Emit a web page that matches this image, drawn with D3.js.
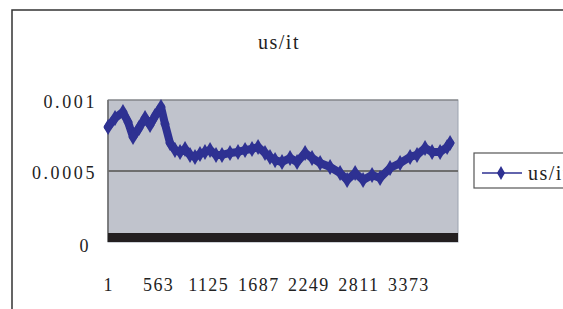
<!DOCTYPE html>
<html>
<head>
<meta charset="utf-8">
<script src="https://cdn.jsdelivr.net/npm/d3@7"></script>
<style>
  body { margin: 0; background: #fff; }
  svg text { font-family: "Liberation Serif", "DejaVu Serif", serif; fill: #222; }
</style>
</head>
<body>
<div id="chart"></div>
<script>
var idx = [1, 79, 168, 225, 281, 348, 416, 472, 528, 595, 640, 696, 752, 809, 865, 921,
  977, 1033, 1089, 1146, 1213, 1280, 1370, 1460, 1539, 1617, 1685, 1763, 1819, 1876,
  1954, 2044, 2123, 2213, 2291, 2382, 2494, 2606, 2685, 2775, 2864, 2965, 3055, 3167,
  3280, 3392, 3470, 3560, 3639, 3729, 3808, 3841];
var vals = [0.000810, 0.000873, 0.000915, 0.000845, 0.000739, 0.000803, 0.000873, 0.000824,
  0.000887, 0.000951, 0.000831, 0.000697, 0.000648, 0.000634, 0.000655, 0.000613,
  0.000599, 0.000620, 0.000634, 0.000648, 0.000613, 0.000613, 0.000627, 0.000634,
  0.000648, 0.000655, 0.000669, 0.000627, 0.000599, 0.000577, 0.000563, 0.000592,
  0.000563, 0.000627, 0.000592, 0.000556, 0.000528, 0.000486, 0.000437, 0.000486,
  0.000437, 0.000472, 0.000451, 0.000521, 0.000556, 0.000599, 0.000613, 0.000662,
  0.000634, 0.000634, 0.000669, 0.000697];
var xTicks = [1, 563, 1125, 1687, 2249, 2811, 3373];
var yTicks = [0, 0.0005, 0.001];
var yLabels = ['0', '0.0005', '0.001'];
var title = 'us/it';
var seriesName = 'us/it';

var W = 563, H = 309;
var plot = {left: 108, right: 458, top: 100, bottom: 242};
var lineColor = '#2e3192';

var svg = d3.select('#chart').append('svg')
  .attr('width', W).attr('height', H);

// outer chart frame (runs off the right/bottom edge)
svg.append('rect')
  .attr('x', 12).attr('y', 10).attr('width', 700).attr('height', 500)
  .attr('fill', 'none').attr('stroke', '#333').attr('stroke-width', 1.5);

var x = d3.scaleLinear().domain([0, 3930]).range([plot.left, plot.right]);
var y = d3.scaleLinear().domain([0, 0.001]).range([plot.bottom, plot.top]);

// plot area
svg.append('rect')
  .attr('x', plot.left).attr('y', plot.top)
  .attr('width', plot.right - plot.left).attr('height', plot.bottom - plot.top)
  .attr('fill', '#c0c3cc').attr('stroke', '#9ca3b0').attr('stroke-width', 1);
svg.append('line')
  .attr('x1', plot.left).attr('x2', plot.left)
  .attr('y1', plot.top).attr('y2', plot.bottom)
  .attr('stroke', '#666').attr('stroke-width', 1.5);
svg.append('line')
  .attr('x1', plot.left).attr('x2', plot.right)
  .attr('y1', plot.top).attr('y2', plot.top)
  .attr('stroke', '#777').attr('stroke-width', 1);

// gridline
svg.selectAll('line.grid')
  .data([0.0005]).enter().append('line')
  .attr('class', 'grid')
  .attr('x1', plot.left).attr('x2', plot.right)
  .attr('y1', function(d) { return y(d); }).attr('y2', function(d) { return y(d); })
  .attr('stroke', '#6e6e6e').attr('stroke-width', 2);

// floor
svg.append('rect')
  .attr('x', plot.left).attr('y', y(0) - 9)
  .attr('width', plot.right - plot.left).attr('height', 9)
  .attr('fill', '#231f20');

// y axis labels
var yAxis = d3.axisLeft(y).tickValues(yTicks)
  .tickFormat(function(d, i) { return yLabels[i]; })
  .tickSize(0).tickPadding(10);
var yg = svg.append('g').attr('transform', 'translate(' + (plot.left - 1) + ',0)').call(yAxis);
yg.select('.domain').remove();
yg.selectAll('text').style('font-size', '18px').style('letter-spacing', '2.6px')
  .attr('dy', '0.4em');
yg.selectAll('.tick').filter(function(d) { return d === 0; })
  .select('text').attr('dy', '0.55em').attr('x', -16);

// x axis labels
var xAxis = d3.axisBottom(x).tickValues(xTicks).tickFormat(d3.format('d'))
  .tickSize(0).tickPadding(0);
var xg = svg.append('g').attr('transform', 'translate(0,' + 277 + ')').call(xAxis);
xg.select('.domain').remove();
xg.selectAll('text').style('font-size', '18px').style('letter-spacing', '1.4px')
  .attr('dy', '0.75em');

// series line
var pts = idx.map(function(d, i) { return [d, vals[i]]; });
var line = d3.line().x(function(d) { return x(d[0]); }).y(function(d) { return y(d[1]); });
svg.append('path')
  .datum(pts)
  .attr('d', line)
  .attr('fill', 'none').attr('stroke', lineColor)
  .attr('stroke-width', 8).attr('stroke-linejoin', 'round').attr('stroke-linecap', 'round');
svg.selectAll('path.mk')
  .data(pts).enter().append('path')
  .attr('class', 'mk')
  .attr('d', d3.symbol().type(d3.symbolDiamond).size(75))
  .attr('transform', function(d) { return 'translate(' + x(d[0]) + ',' + y(d[1]) + ')'; })
  .attr('fill', lineColor);

// title
svg.append('text')
  .attr('x', 279).attr('y', 49).attr('text-anchor', 'middle')
  .style('font-size', '20px').style('letter-spacing', '1.5px').text(title);

// legend
var lg = svg.append('g');
lg.append('rect')
  .attr('x', 474).attr('y', 153).attr('width', 120).attr('height', 35)
  .attr('fill', '#fff').attr('stroke', '#555').attr('stroke-width', 1.2);
lg.append('line')
  .attr('x1', 482).attr('x2', 522).attr('y1', 173).attr('y2', 173)
  .attr('stroke', lineColor).attr('stroke-width', 1.5);
lg.append('path')
  .attr('d', d3.symbol().type(d3.symbolDiamond).size(55))
  .attr('transform', 'translate(501,173)').attr('fill', lineColor);
lg.append('text')
  .attr('x', 528).attr('y', 180)
  .style('font-size', '20px').style('letter-spacing', '1.5px').text(seriesName);
</script>
</body>
</html>
